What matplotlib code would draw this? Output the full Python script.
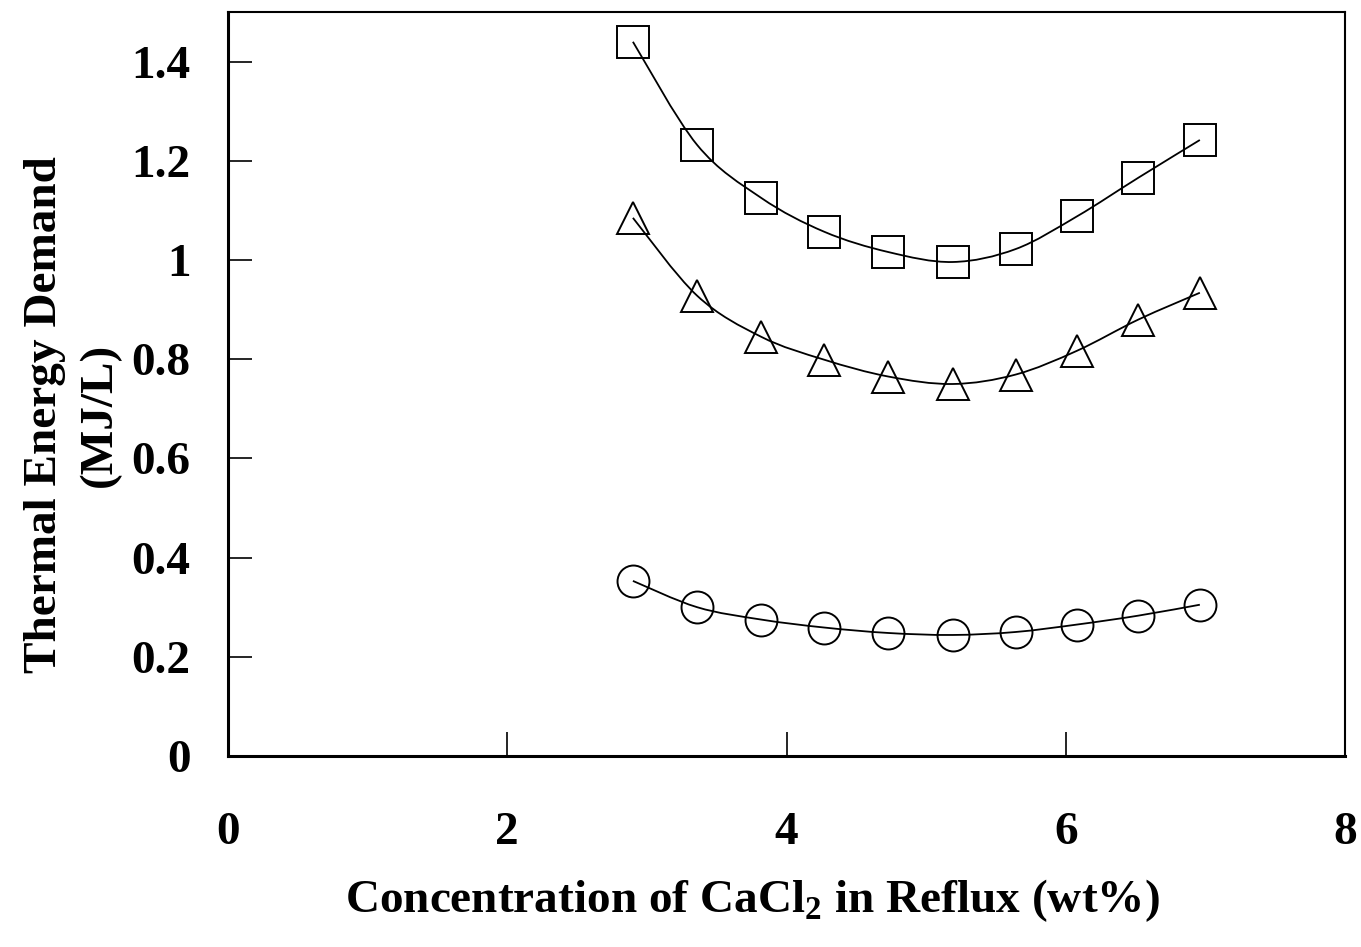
import numpy as np
import matplotlib
matplotlib.use('Agg')
import matplotlib.pyplot as plt
from matplotlib.path import Path
from matplotlib.patches import PathPatch

plt.rcParams['font.family'] = ['Liberation Serif', 'DejaVu Serif']
plt.rcParams['font.weight'] = 'bold'
plt.rcParams['mathtext.fontset'] = 'custom'
plt.rcParams['mathtext.rm'] = 'Liberation Serif:bold'
plt.rcParams['mathtext.bf'] = 'Liberation Serif:bold'

# CaCl2 concentration (wt%)
conc = [2.9, 3.36, 3.82, 4.27, 4.73, 5.19, 5.64, 6.08, 6.52, 6.96]

# thermal energy demand (MJ/L)
squares = [1.44, 1.232, 1.125, 1.057, 1.016, 0.996, 1.022, 1.088, 1.166, 1.242]
triangles = [1.085, 0.928, 0.845, 0.799, 0.765, 0.75, 0.769, 0.817, 0.88, 0.934]
circles = [0.353, 0.300, 0.275, 0.259, 0.248, 0.244, 0.25, 0.265, 0.283, 0.305]

xticks = [0, 2, 4, 6, 8]
yticks = [0, 0.2, 0.4, 0.6, 0.8, 1.0, 1.2, 1.4]
yticklabels = ['0', '0.2', '0.4', '0.6', '0.8', '1', '1.2', '1.4']

FS = 34


def smooth_path(x, y):
    # spreadsheet-style smoothed line: cubic Bezier segments through every point
    pts = np.column_stack([x, y])
    n = len(pts)
    verts = [pts[0]]
    codes = [Path.MOVETO]
    for i in range(n - 1):
        p0 = pts[max(i - 1, 0)]
        p1 = pts[i]
        p2 = pts[i + 1]
        p3 = pts[min(i + 2, n - 1)]
        verts += [p1 + (p2 - p0) / 6, p2 - (p3 - p1) / 6, p2]
        codes += [Path.CURVE4] * 3
    return Path(verts, codes)


def plot_series(ax, x, y, marker):
    ax.add_patch(PathPatch(smooth_path(x, y), fill=False, edgecolor='black',
                           lw=1.3, zorder=2))
    ax.plot(x, y, linestyle='none', marker=marker, ms=23, mfc='none',
            mec='black', mew=1.4, zorder=3)


fig = plt.figure(figsize=(13.61, 9.47), dpi=100)
ax = fig.add_axes([0.1675, 0.2017, 0.8208, 0.7856])

plot_series(ax, conc, squares, 's')
plot_series(ax, conc, triangles, '^')
plot_series(ax, conc, circles, 'o')

ax.set_xlim(0, 8)
ax.set_ylim(0, 1.5)
ax.set_xticks(xticks)
ax.set_yticks(yticks)
ax.set_yticklabels(yticklabels)
ax.tick_params(axis='x', direction='in', length=17, width=1.2, pad=40, labelsize=FS)
ax.tick_params(axis='y', direction='in', length=17, width=1.2, pad=27, labelsize=FS)

ax.spines['left'].set_linewidth(2.2)
ax.spines['bottom'].set_linewidth(2.2)
ax.spines['top'].set_linewidth(1.5)
ax.spines['right'].set_linewidth(1.5)

ax.set_xlabel(r'Concentration of CaCl$_\mathbf{2}$ in Reflux (wt%)', fontsize=FS,
              fontweight='bold')
ax.xaxis.set_label_coords(0.4696, -0.1625)
ax.set_ylabel('Thermal Energy Demand\n(MJ/L)', fontsize=FS, fontweight='bold',
              linespacing=1.4)
ax.yaxis.set_label_coords(-0.0958, 0.4584)

fig.savefig('out.png', dpi=100)
